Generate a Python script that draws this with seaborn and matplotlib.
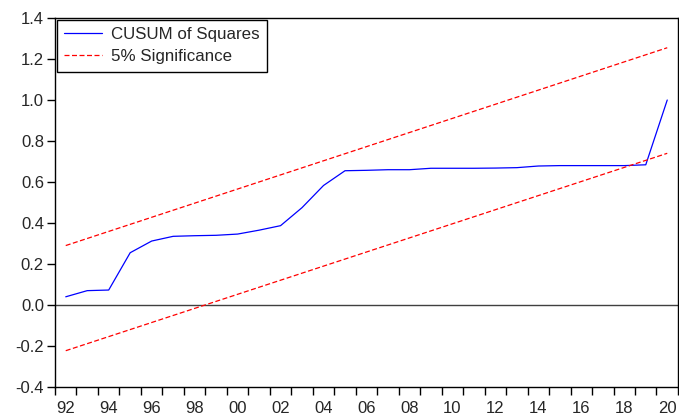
"""
CUSUM of squares stability test chart.
"""
import numpy as np
import pandas as pd
import matplotlib
matplotlib.use("Agg")
import matplotlib.pyplot as plt
import seaborn as sns

# CUSUM of squares, one value per year
years = list(range(1992, 2021))
cusum_sq = [0.04, 0.07, 0.073, 0.255, 0.312, 0.335, 0.338, 0.34, 0.346, 0.365,
            0.387, 0.475, 0.583, 0.655, 0.657, 0.66, 0.66, 0.667, 0.667, 0.667,
            0.668, 0.67, 0.678, 0.68, 0.68, 0.68, 0.68, 0.684, 1.0]

# 5% significance bounds (straight lines between first and last year)
bound_years = [1992, 2020]
upper_bound = [0.29, 1.255]
lower_bound = [-0.223, 0.74]

tick_years = list(range(1992, 2021, 2))
tick_labels = [f"{y % 100:02d}" for y in tick_years]

sns.set_style("ticks")
plt.rcParams['font.family'] = ['Liberation Sans', 'DejaVu Sans']

fig = plt.figure(figsize=(6.79, 4.19), dpi=100)
ax = fig.add_axes([0.081, 0.0764, 0.9175, 0.8806])

# points sit in the middle of each year
df = pd.DataFrame({'x': np.array(years) + 0.5, 'y': cusum_sq})
bnd = pd.DataFrame({'x': np.array(bound_years) + 0.5,
                    'up': upper_bound, 'lo': lower_bound})

ax.axhline(0, color='#404040', lw=1.0, zorder=1)
sns.lineplot(data=df, x='x', y='y', ax=ax, color='#0000ff', lw=0.9,
             label='CUSUM of Squares')
sns.lineplot(data=bnd, x='x', y='up', ax=ax, color='#ff0000', lw=0.9,
             linestyle=(0, (4, 2)), label='5% Significance')
sns.lineplot(data=bnd, x='x', y='lo', ax=ax, color='#ff0000', lw=0.9,
             linestyle=(0, (4, 2)))

# Axes
ax.set_xlim(1992, 2021)
ax.set_ylim(-0.4, 1.4)
ax.set_yticks(np.arange(-0.4, 1.41, 0.2))
ax.set_yticklabels([f"{v:.1f}" for v in np.arange(-0.4, 1.41, 0.2)], fontsize=12)

# year-boundary ticks, labels centred on the years
ax.set_xticks(range(1992, 2022))
ax.set_xticklabels([])
ax.set_xticks(np.array(tick_years) + 0.5, minor=True)
ax.set_xticklabels(tick_labels, minor=True, fontsize=12)
ax.tick_params(axis='x', which='major', length=5.5, width=1, color='black')
ax.tick_params(axis='x', which='minor', length=0, pad=10)
ax.tick_params(axis='y', length=6, width=1, color='black', pad=2)
ax.set_xlabel('')
ax.set_ylabel('')

for s in ax.spines.values():
    s.set_color('black')
    s.set_linewidth(1.0)

leg = ax.legend(loc='upper left', fontsize=12.2, frameon=True, fancybox=False,
                borderaxespad=0.1, handlelength=2.2, handletextpad=0.55,
                borderpad=0.45, labelspacing=0.4)
leg.get_frame().set_edgecolor('black')
leg.get_frame().set_linewidth(1.0)
leg.get_frame().set_alpha(1)

fig.savefig('out.png', dpi=100)
plt.close(fig)
